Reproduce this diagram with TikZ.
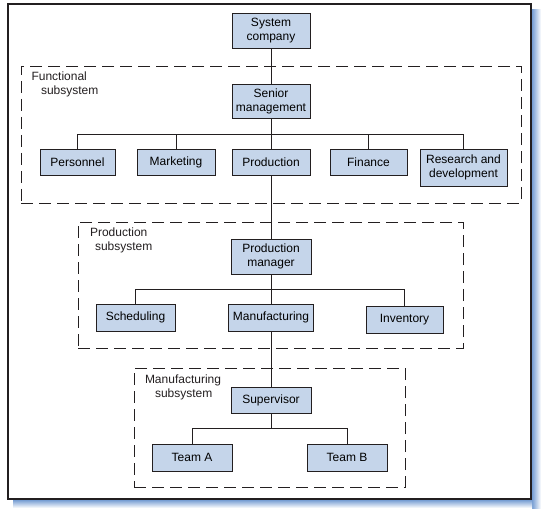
\documentclass[tikz,border=0pt]{standalone}
\usepackage{fontspec}
\setmainfont{Liberation Sans}
\usepackage{xcolor}
\definecolor{colorUnit}{RGB}{197,213,234}
\definecolor{colorInk}{RGB}{35,31,32}
\definecolor{colorShadow}{RGB}{122,160,212}
\usepackage{tikz}
\usetikzlibrary{positioning}
\tikzset{every picture/.style={font=\fontsize{12}{14}\selectfont}}

\begin{document}
\begin{tikzpicture}[x=1pt, y=-1pt, line width=0.8pt, draw=colorInk,
  unit/.style={draw=colorInk, fill=colorUnit, inner sep=0pt, align=center},
  subsys/.style={draw=colorInk, dash pattern=on 12pt off 6pt, inner sep=0pt},
  subsysLabel/.style={inner sep=0pt, align=left, text=colorInk}]
\useasboundingbox (0,0) rectangle (547,511);
\shade[left color=colorShadow, right color=white] (532.2,10) rectangle (541,508);
\shade[top color=colorShadow, bottom color=white] (13,500.2) rectangle (532.2,508);
\draw[line width=2.3pt] (8,4) rectangle (531,499);
\node[subsys, minimum width=500pt, minimum height=137pt] (funcsys) at (271,134.5) {};
\node[subsys, minimum width=385pt, minimum height=126pt] (prodsys) at (270.5,285) {};
\node[subsys, minimum width=271pt, minimum height=119pt] (manusys) at (269.5,427.5) {};
\node[subsysLabel, below right=5.5pt and 10.5pt of funcsys.north west] (funclab) {Functional\\\hspace*{9.5pt}subsystem};
\node[subsysLabel, below right=5.5pt and 12pt of prodsys.north west] (prodlab) {Production\\\hspace*{5pt}subsystem};
\node[subsysLabel, below right=6.5pt and 11pt of manusys.north west] (manulab) {Manufacturing\\\hspace*{10pt}subsystem};
\node[unit, minimum width=78pt, minimum height=35pt] (sys) at (271,30.5) {System\\company};
\node[unit, minimum width=78pt, minimum height=34pt] (sen) at (271,101) {Senior\\management};
\node[unit, minimum width=75pt, minimum height=26pt] (pers) at (77.5,162) {Personnel};
\node[unit, minimum width=78pt, minimum height=26pt] (mark) at (176,162) {Marketing};
\node[unit, minimum width=78pt, minimum height=26pt] (prod) at (271,162) {Production};
\node[unit, minimum width=77pt, minimum height=26pt] (fin) at (368.5,162) {Finance};
\node[unit, minimum width=87pt, minimum height=37pt] (rnd) at (463.5,167.5) {Research and\\development};
\node[unit, minimum width=80pt, minimum height=35pt] (pm) at (271,256.5) {Production\\manager};
\node[unit, minimum width=79pt, minimum height=27pt] (sched) at (135.5,317.5) {Scheduling};
\node[unit, minimum width=85pt, minimum height=27pt] (manu) at (271,317.5) {Manufacturing};
\node[unit, minimum width=77pt, minimum height=27pt] (inv) at (404.5,319.5) {Inventory};
\node[unit, minimum width=80pt, minimum height=26pt] (sup) at (271,400) {Supervisor};
\node[unit, minimum width=80pt, minimum height=27pt] (teama) at (192,457.5) {Team A};
\node[unit, minimum width=80pt, minimum height=27pt] (teamb) at (347,457.5) {Team B};
\coordinate (funcbus) at (271,134);
\coordinate (prodbus) at (271,289);
\coordinate (manubus) at (271,428);
\draw (sys) -- (sen);
\draw (sen) -- (funcbus);
\draw (funcbus) -| (pers);
\draw (funcbus) -| (mark);
\draw (funcbus) -- (prod);
\draw (funcbus) -| (fin);
\draw (funcbus) -| (rnd);
\draw (prod) -- (pm);
\draw (pm) -- (prodbus);
\draw (prodbus) -| (sched);
\draw (prodbus) -- (manu);
\draw (prodbus) -| (inv);
\draw (manu) -- (sup);
\draw (sup) -- (manubus);
\draw (manubus) -| (teama);
\draw (manubus) -| (teamb);
\end{tikzpicture}
\end{document}
